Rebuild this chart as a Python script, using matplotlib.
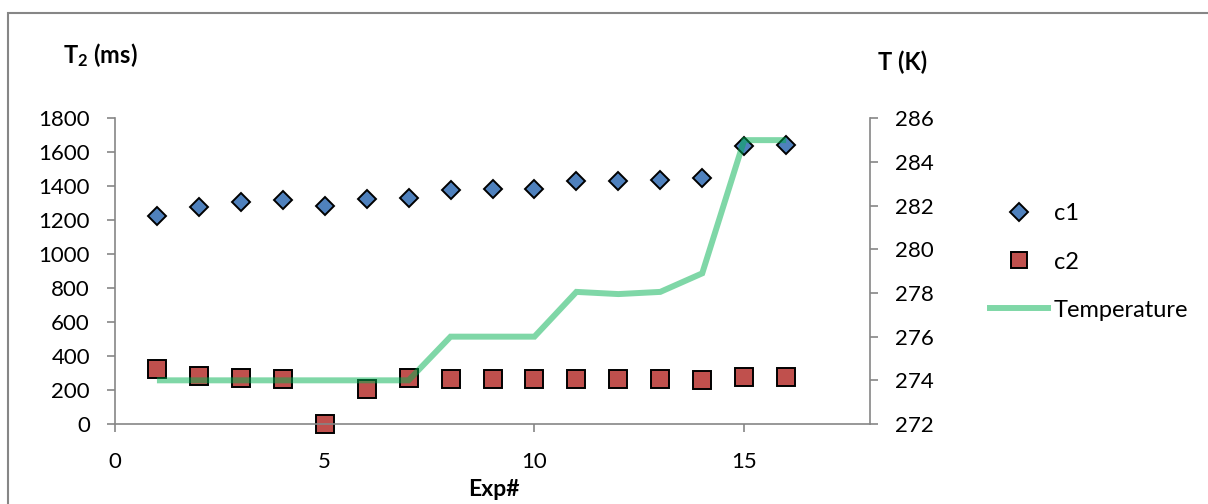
import matplotlib
matplotlib.use("Agg")
import matplotlib.pyplot as plt
import matplotlib.patches as mpatches
from matplotlib.lines import Line2D

plt.rcParams['font.family'] = ['Lato', 'DejaVu Sans']
plt.rcParams['mathtext.default'] = 'regular'

# data
exp = [1, 2, 3, 4, 5, 6, 7, 8, 9, 10, 11, 12, 13, 14, 15, 16]
c1 = [1225, 1280, 1306, 1319, 1284, 1323, 1329, 1378, 1382, 1382,
      1431, 1433, 1435, 1451, 1639, 1645]
c2 = [326, 281, 269, 267, 0, 204, 269, 263, 263, 263,
      263, 263, 263, 259, 275, 279]
temperature = [274, 274, 274, 274, 274, 274, 274, 276, 276, 276,
               278.05, 277.95, 278.05, 278.9, 285, 285]

x_ticks = [0, 5, 10, 15]
left_ticks = list(range(0, 1801, 200))
right_ticks = list(range(272, 287, 2))

GRAY = '#868686'
BLUE = '#4F81BD'
RED = '#C0504D'
GREEN = '#00B050'
FS = 16

fig = plt.figure(figsize=(12.08, 5.04), dpi=100)
ax = fig.add_axes([115 / 1208, 80 / 504, 755 / 1208, 305.7 / 504])
ax2 = ax.twinx()

ax.plot(exp, c1, linestyle='none', marker='D', markersize=9.2,
        markerfacecolor=BLUE, markeredgecolor='black', markeredgewidth=1.4)
ax.plot(exp, c2, linestyle='none', marker='s', markersize=13,
        markerfacecolor=RED, markeredgecolor='black', markeredgewidth=1.4,
        clip_on=False)
ax2.plot(exp, temperature, color=GREEN, alpha=0.5, linewidth=4.3,
         solid_capstyle='butt', solid_joinstyle='miter')

ax.set_xlim(0, 18)
ax.set_ylim(0, 1800)
ax2.set_ylim(272, 286)
ax.set_xticks(x_ticks)
ax.set_yticks(left_ticks)
ax2.set_yticks(right_ticks)

for a in (ax, ax2):
    for s in a.spines.values():
        s.set_color(GRAY)
        s.set_linewidth(1.2)
    a.spines['top'].set_visible(False)
ax.spines['right'].set_visible(False)
ax2.spines['left'].set_visible(False)
ax2.spines['bottom'].set_visible(False)

ax.tick_params(axis='both', direction='out', length=6, width=1.2,
               color=GRAY, labelsize=FS, labelcolor='black')
ax.tick_params(axis='y', pad=12)
ax.tick_params(axis='x', pad=14)
ax2.tick_params(axis='y', direction='out', length=6, width=1.2,
                color=GRAY, labelsize=FS, labelcolor='black', pad=12)

fig.text(100 / 1208, 1 - 63 / 504, 'T$_2$ (ms)', ha='center', va='baseline',
         fontsize=17, fontweight='bold')
fig.text(903 / 1208, 1 - 70 / 504, 'T (K)', ha='center', va='baseline',
         fontsize=17, fontweight='bold')
fig.text(494 / 1208, 1 - 496 / 504, 'Exp#', ha='center', va='baseline',
         fontsize=16.5, fontweight='bold')

handles = [
    Line2D([], [], linestyle='none', marker='D', markersize=9.2,
           markerfacecolor=BLUE, markeredgecolor='black', markeredgewidth=1.4),
    Line2D([], [], linestyle='none', marker='s', markersize=12,
           markerfacecolor=RED, markeredgecolor='black', markeredgewidth=1.4),
    Line2D([], [], color=GREEN, alpha=0.5, linewidth=4.3),
]
fig.legend(handles, ['c1', 'c2', 'Temperature'], loc='center left',
           bbox_to_anchor=(990 / 1208, 1 - 262 / 504), frameon=False,
           fontsize=17, handlelength=2.45, handletextpad=0.25,
           labelspacing=1.15, borderpad=0, borderaxespad=0)

# outer chart border (runs off the right and bottom edges)
fig.patches.append(mpatches.Rectangle((8 / 1208, -0.2), 1.2, 1.2 - 13 / 504,
                                      transform=fig.transFigure, fill=False,
                                      edgecolor=GRAY, linewidth=1.5))

fig.savefig('out.png', dpi=100)
